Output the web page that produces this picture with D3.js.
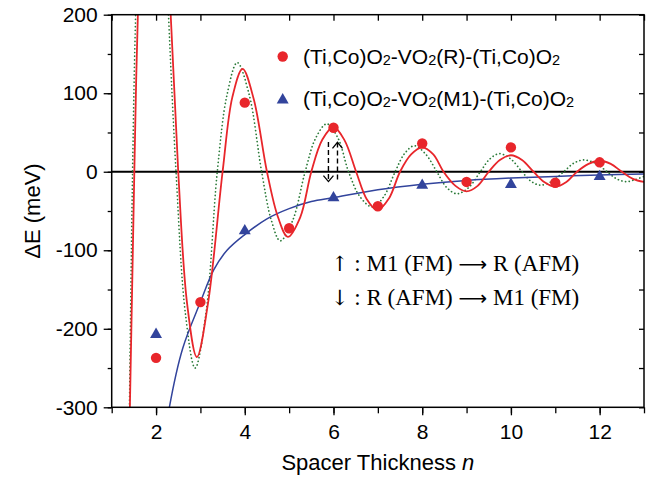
<!DOCTYPE html>
<html>
<head>
<meta charset="utf-8">
<script src="https://cdn.jsdelivr.net/npm/d3@7"></script>
<style>
body{margin:0;background:#fff;}
.axis text{font-family:"Liberation Sans",Arial,Helvetica,sans-serif;font-size:21px;fill:#000;}
.axis line{stroke:#000;stroke-width:1.3;}
.axis path{display:none;}
</style>
</head>
<body>
<div id="graph"></div>
<script>
// measured points, n = spacer thickness, values in meV
var nR = [2,3,4,5,6,7,8,9,10,11,12];
var eR = [-237,-166,88,-72,56,-44,36,-13,31,-14,12];
var nM1 = [2,4,6,8,10,12];
var eM1 = [-206,-74,-32,-16,-15,-5];

// fitted curves
var fitRn = [1.30,1.41,1.51,1.59,1.75,1.95,2.15,2.33,2.5,2.7,2.92,3.17,3.5,3.72,3.95,4.2,4.5,4.75,4.97,5.25,5.5,5.75,6.0,6.25,6.51,6.75,6.99,7.25,7.5,7.75,8.0,8.25,8.48,8.75,9.0,9.25,9.5,9.75,10.0,10.25,10.51,10.75,11.0,11.25,11.49,11.75,12.0,12.25,12.5,12.75,13.0];
var fitRe = [-700,-300,0,200,430,520,430,200,0,-168,-236,-168,0,95,131,93,0,-58,-83,-58,0,41,57,40,0,-35,-49,-34,0,22,31,22,0,-18,-25,-18,0,15,21,15,0,-13,-19,-13,0,10,14,10,0,-9,-13];

var fitGn = [1.30,1.40,1.47,1.54,1.70,1.90,2.10,2.28,2.45,2.66,2.88,3.13,3.38,3.60,3.83,4.10,4.38,4.60,4.80,5.08,5.36,5.60,5.85,6.10,6.34,6.60,6.88,7.13,7.39,7.60,7.82,8.07,8.33,8.55,8.78,9.05,9.31,9.52,9.74,10.0,10.25,10.45,10.66,10.93,11.19,11.42,11.64,11.90,12.17,12.38,12.60,12.80,13.0];
var fitGe = [-800,-300,0,200,470,580,450,200,0,-180,-250,-178,0,98,139,98,0,-62,-88,-62,0,43,61,43,0,-32,-45,-32,0,23,33,23,0,-20,-28,-20,0,16,23,16,0,-12,-17,-12,0,11,15,11,0,-9,-12.6,-10,-6];

var fitBn = [2.2,2.3,2.6,3.0,3.3,3.6,4.0,4.5,5.0,5.5,6.0,7.0,8.0,9.0,10.0,11.0,12.0,13.0];
var fitBe = [-340,-300,-225,-166,-125,-100,-80,-60,-47,-38,-33,-23,-16,-11,-8,-6,-4,-3];

var xTicks = [2,4,6,8,10,12];
var yTicks = [-300,-200,-100,0,100,200];

var labelR = ["(Ti,Co)O","2","-VO","2","(R)-(Ti,Co)O","2"];
var labelM1 = ["(Ti,Co)O","2","-VO","2","(M1)-(Ti,Co)O","2"];

var red = "#e8262b", blue = "#32449c", green = "#2a7a38";

var W = 654, H = 477;
var svg = d3.select("#graph").append("svg").attr("width",W).attr("height",H);

var x = d3.scaleLinear().domain([1,13]).range([111.7,644]);
var y = d3.scaleLinear().domain([-300,200]).range([407.3,14.7]);
var fmt = function(d){ return String(d); };

svg.append("clipPath").attr("id","clip").append("rect")
    .attr("x",x(1)).attr("y",y(200)).attr("width",x(13)-x(1)).attr("height",y(-300)-y(200));

// axes
var bottomMinor = d3.axisBottom(x).tickValues(d3.range(1,14)).tickSize(6).tickSizeOuter(0).tickFormat("");
var bottomMajor = d3.axisBottom(x).tickValues(xTicks).tickSize(8).tickSizeOuter(0).tickPadding(9).tickFormat(fmt);
svg.append("g").attr("class","axis").attr("transform","translate(0,"+y(-300)+")").call(bottomMinor);
svg.append("g").attr("class","axis").attr("transform","translate(0,"+y(-300)+")").call(bottomMajor);

var topAx = d3.axisTop(x).tickValues(d3.range(1,14)).tickSize(-6).tickSizeOuter(0).tickFormat("");
svg.append("g").attr("class","axis").attr("transform","translate(0,"+y(200)+")").call(topAx);

var leftMinor = d3.axisLeft(y).tickValues(d3.range(-300,201,50)).tickSize(4).tickSizeOuter(0).tickFormat("");
var leftMajor = d3.axisLeft(y).tickValues(yTicks).tickSize(8).tickSizeOuter(0).tickPadding(6).tickFormat(fmt);
svg.append("g").attr("class","axis").attr("transform","translate("+x(1)+",0)").call(leftMinor);
svg.append("g").attr("class","axis").attr("transform","translate("+x(1)+",0)").call(leftMajor);

var rightAx = d3.axisRight(y).tickValues(d3.range(-300,201,50)).tickSize(-5).tickSizeOuter(0).tickFormat("");
svg.append("g").attr("class","axis").attr("transform","translate("+x(13)+",0)").call(rightAx);

// zero line
svg.append("line").attr("x1",x(1)).attr("x2",x(13)).attr("y1",y(0)).attr("y2",y(0))
    .attr("stroke","#000").attr("stroke-width",2.2);

var plot = svg.append("g").attr("clip-path","url(#clip)");
var line = d3.line().x(function(d){return x(d[0]);}).y(function(d){return y(d[1]);}).curve(d3.curveCatmullRom.alpha(0.5));

plot.append("path").datum(d3.zip(fitGn,fitGe)).attr("d",line)
    .attr("fill","none").attr("stroke",green).attr("stroke-width",1.7)
    .attr("stroke-dasharray","0.1,3.6").attr("stroke-linecap","round");
plot.append("path").datum(d3.zip(fitBn,fitBe)).attr("d",line)
    .attr("fill","none").attr("stroke",blue).attr("stroke-width",1.5);
plot.append("path").datum(d3.zip(fitRn,fitRe)).attr("d",line)
    .attr("fill","none").attr("stroke",red).attr("stroke-width",1.8);

// markers
var tri = d3.symbol().type(d3.symbolTriangle).size(62);
plot.selectAll(".m1").data(d3.zip(nM1,eM1)).enter().append("path")
    .attr("d",tri).attr("fill",blue)
    .attr("transform",function(d){return "translate("+x(d[0])+","+(y(d[1])+1)+")";});
plot.selectAll(".r").data(d3.zip(nR,eR)).enter().append("circle")
    .attr("cx",function(d){return x(d[0]);}).attr("cy",function(d){return y(d[1]);})
    .attr("r",5.2).attr("fill",red);

// frame
svg.append("rect").attr("x",x(1)).attr("y",y(200)).attr("width",x(13)-x(1)).attr("height",y(-300)-y(200))
    .attr("fill","none").attr("stroke","#000").attr("stroke-width",1.5);

// dashed arrows
function arrow(xv, y0, y1){
  var dir = y1 > y0 ? 1 : -1;
  svg.append("line").attr("x1",x(xv)).attr("x2",x(xv)).attr("y1",y(y0)).attr("y2",y(y1))
    .attr("stroke","#000").attr("stroke-width",1.4).attr("stroke-dasharray","5,3");
  var tx = x(xv), ty = y(y1);
  svg.append("path").attr("d","M"+(tx-5)+","+(ty+6*dir)+"L"+tx+","+ty+"L"+(tx+5)+","+(ty+6*dir))
    .attr("fill","none").attr("stroke","#000").attr("stroke-width",1.3);
}
arrow(5.886, 38, -12.5);
arrow(6.09, -10, 37.5);

// legend
function legendRow(yy, parts, sym){
  if(sym === "circle"){
    svg.append("circle").attr("cx",282.7).attr("cy",yy-7).attr("r",5.2).attr("fill",red);
  } else {
    svg.append("path").attr("d",tri).attr("fill",blue).attr("transform","translate(282.7,"+(yy-6)+")");
  }
  var t = svg.append("text").attr("x",303).attr("y",yy)
    .attr("font-family","Liberation Sans,Arial,Helvetica,sans-serif").attr("font-size",21);
  parts.forEach(function(p,i){
    if(i % 2 === 1){
      t.append("tspan").attr("font-size",14.5).attr("dy",1).text(p);
    } else {
      t.append("tspan").attr("dy", i === 0 ? 0 : -1).text(p);
    }
  });
}
legendRow(63.5, labelR, "circle");
legendRow(106, labelM1, "triangle");

// annotation text
var note = svg.append("g").attr("font-family","Liberation Serif,Times New Roman,serif").attr("font-size",23);
function noteRow(yy, a, b, c){
  var t = note.append("text").attr("x",331).attr("y",yy);
  t.append("tspan").attr("font-family","DejaVu Serif").attr("font-size",21).text(a);
  t.append("tspan").text(b);
  t.append("tspan").attr("font-family","DejaVu Sans").attr("font-size",20).text("\u27F6");
  t.append("tspan").text(c);
}
noteRow(271, "\u2191", " : M1 (FM) ", " R (AFM)");
noteRow(305, "\u2193", " : R (AFM) ", " M1 (FM)");

// axis titles
var xt = svg.append("text").attr("x",(x(1)+x(13))/2).attr("y",470).attr("text-anchor","middle")
    .attr("font-family","Liberation Sans,Arial,Helvetica,sans-serif").attr("font-size",22);
xt.append("tspan").text("Spacer Thickness ");
xt.append("tspan").attr("font-style","italic").text("n");

svg.append("text").attr("transform","translate(40,"+((y(200)+y(-300))/2)+") rotate(-90)")
    .attr("text-anchor","middle")
    .attr("font-family","Liberation Sans,Arial,Helvetica,sans-serif").attr("font-size",22)
    .text("\u0394E (meV)");
</script>
</body>
</html>
